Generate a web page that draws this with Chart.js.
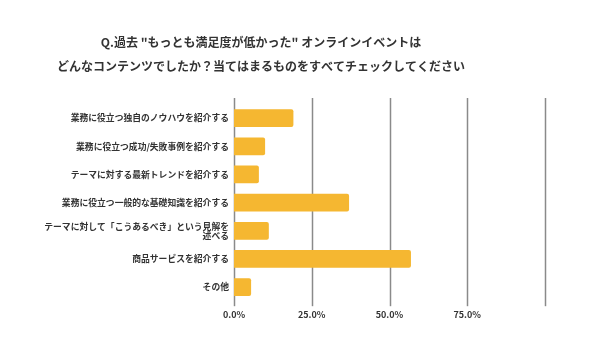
<!DOCTYPE html>
<html>
<head>
<meta charset="utf-8">
<script src="https://cdn.jsdelivr.net/npm/chart.js@4/dist/chart.umd.min.js"></script>
<style>
  html, body { margin: 0; padding: 0; background: #fff; }
  #wrap { width: 590px; height: 351px; }
</style>
</head>
<body>
<div id="wrap"><canvas id="chart" width="590" height="351"></canvas></div>
<script>
// chart data
const titleLines = [
    'Q.過去 "もっとも満足度が低かった" オンラインイベントは',
    'どんなコンテンツでしたか？当てはまるものをすべてチェックしてください'
];
const categories = [
    '業務に役立つ独自のノウハウを紹介する',
    '業務に役立つ成功/失敗事例を紹介する',
    'テーマに対する最新トレンドを紹介する',
    '業務に役立つ一般的な基礎知識を紹介する',
    ['テーマに対して「こうあるべき」という見解を', '述べる'],
    '商品サービスを紹介する',
    'その他'
];
const percents = [19.1, 10.0, 8.0, 37.0, 11.2, 56.9, 5.5];
const tickLabels = ['0.0%', '25.0%', '50.0%', '75.0%', ''];

const FONT = '"Noto Sans CJK JP", "Noto Sans", sans-serif';

// gridlines that reach a little past the bars, like the original
const longGrid = {
    id: 'longGrid',
    beforeDatasetsDraw(chart) {
        const { ctx, chartArea, scales } = chart;
        const x = scales.x;
        ctx.save();
        ctx.strokeStyle = '#8a8a8a';
        ctx.lineWidth = 1.5;
        x.ticks.forEach(t => {
            const px = Math.round(x.getPixelForValue(t.value)) + 0.5;
            ctx.beginPath();
            ctx.moveTo(px, chartArea.top - 6);
            ctx.lineTo(px, chartArea.bottom + 5);
            ctx.stroke();
        });
        ctx.restore();
    }
};

new Chart(document.getElementById('chart'), {
    type: 'bar',
    data: {
        labels: categories,
        datasets: [{
            data: percents,
            backgroundColor: '#f5b731',
            borderRadius: 2,
            borderSkipped: 'start',
            barPercentage: 0.63,
            categoryPercentage: 1
        }]
    },
    options: {
        indexAxis: 'y',
        responsive: false,
        animation: false,
        layout: { padding: { top: 30, right: 45, bottom: 23, left: -23 } },
        plugins: {
            legend: { display: false },
            tooltip: { enabled: false },
            title: {
                display: true,
                text: titleLines,
                color: '#333',
                font: { family: FONT, size: 12, weight: 'bold', lineHeight: 2 },
                padding: { top: 0, bottom: 26 }
            }
        },
        scales: {
            x: {
                min: 0,
                max: 100,
                ticks: {
                    stepSize: 25,
                    color: '#333',
                    padding: 8,
                    font: { family: FONT, size: 9, weight: 'bold' },
                    callback: (v, i) => tickLabels[i]
                },
                grid: { display: false, drawTicks: false },
                border: { display: false }
            },
            y: {
                afterFit: s => { s.width = 257; },
                ticks: {
                    color: '#333',
                    padding: 5,
                    autoSkip: false,
                    font: { family: FONT, size: 8.8, weight: 'bold', lineHeight: 1.05 }
                },
                grid: { display: false, drawTicks: false },
                border: { display: false }
            }
        }
    },
    plugins: [longGrid]
});
</script>
</body>
</html>
